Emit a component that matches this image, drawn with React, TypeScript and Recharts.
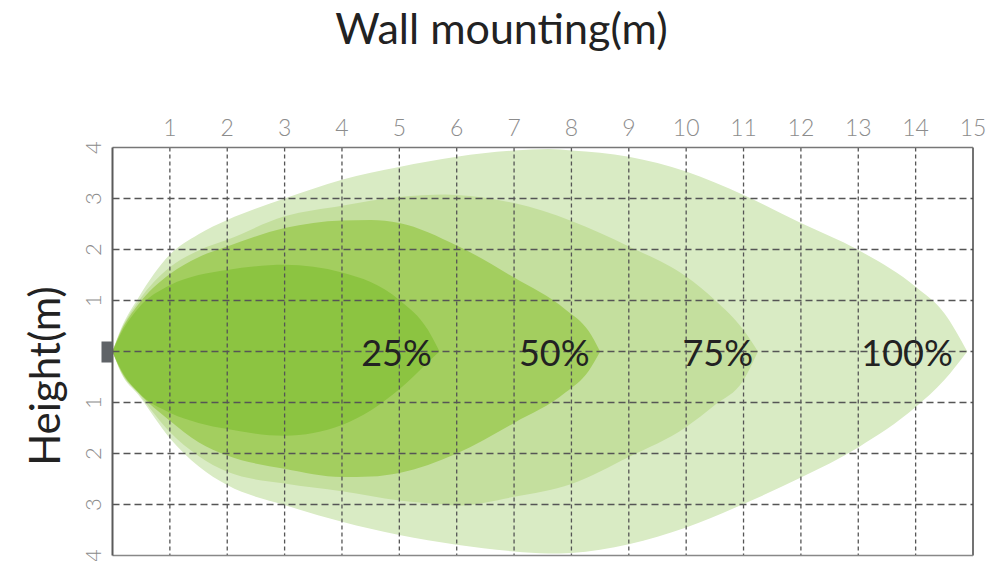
import { ComposedChart, Area, XAxis, YAxis, ReferenceLine, Scatter } from "recharts";

// axis ticks
const xTicks = [1, 2, 3, 4, 5, 6, 7, 8, 9, 10, 11, 12, 13, 14, 15];
const yTicks = [-4, -3, -2, -1, 0, 1, 2, 3, 4];

// 100% lobe
const lobe100X = [0, 0.15, 0.45, 1, 1.5, 2, 3, 4, 5, 6, 7, 7.6, 8, 9, 10, 11, 12, 13, 14, 14.5, 14.9];
const lobe100Upper = [0, 0.45, 1.05, 1.9, 2.3, 2.58, 3.0, 3.37, 3.62, 3.82, 3.94, 3.97, 3.94, 3.82, 3.53, 3.07, 2.52, 1.99, 1.27, 0.75, 0];
const lobe100Lower = [0, -0.42, -0.85, -1.7, -2.25, -2.62, -3.01, -3.34, -3.6, -3.79, -3.92, -3.96, -3.95, -3.78, -3.45, -2.99, -2.47, -1.88, -1.09, -0.56, 0];

// 75% lobe
const lobe75X = [0, 0.15, 0.45, 1, 1.5, 2, 3, 4, 5, 5.8, 6, 7, 8, 9, 10, 10.5, 11, 11.25];
const lobe75Upper = [0, 0.42, 0.98, 1.65, 1.98, 2.19, 2.65, 2.86, 3.03, 3.08, 3.07, 2.91, 2.56, 2.06, 1.47, 1.01, 0.42, 0];
const lobe75Lower = [0, -0.4, -0.82, -1.58, -2.05, -2.36, -2.59, -2.74, -2.92, -3.0, -3.02, -2.85, -2.6, -2.07, -1.48, -1.05, -0.56, 0];

// 50% lobe
const lobe50X = [0, 0.15, 0.45, 1, 1.5, 2, 3, 4, 4.5, 5, 6, 7, 7.9, 8.3, 8.5];
const lobe50Upper = [0, 0.4, 0.92, 1.52, 1.85, 2.06, 2.42, 2.57, 2.58, 2.52, 2.08, 1.45, 0.82, 0.4, 0];
const lobe50Lower = [0, -0.38, -0.8, -1.36, -1.78, -2.04, -2.3, -2.46, -2.45, -2.38, -2.0, -1.4, -0.8, -0.38, 0];

// 25% lobe
const lobe25X = [0, 0.15, 0.45, 1, 1.5, 2, 3, 4, 5, 5.5, 5.7];
const lobe25Upper = [0, 0.36, 0.85, 1.3, 1.5, 1.6, 1.7, 1.55, 1.01, 0.42, 0];
const lobe25Lower = [0, -0.36, -0.8, -1.2, -1.4, -1.52, -1.65, -1.44, -0.74, -0.21, 0];

const labelNames = ["25%", "50%", "75%", "100%"];
const labelX = [4.95, 7.7, 10.55, 13.85];

const toRange = (xs: number[], up: number[], lo: number[]) =>
  xs.map((x, i) => ({ x, range: [lo[i], up[i]] }));

const lobes = [
  { data: toRange(lobe100X, lobe100Upper, lobe100Lower), fill: "#d9ebc4" },
  { data: toRange(lobe75X, lobe75Upper, lobe75Lower), fill: "#c4df9e" },
  { data: toRange(lobe50X, lobe50Upper, lobe50Lower), fill: "#a3ce5f" },
  { data: toRange(lobe25X, lobe25Upper, lobe25Lower), fill: "#8cc441" },
];

const labelData = labelNames.map((name, i) => ({ x: labelX[i], y: 0, name }));
const originData = [{ x: 0, y: 0 }];

const font = "Lato, 'Open Sans', sans-serif";

function YTick(props: any) {
  const { x, y, payload } = props;
  if (payload.value === 0) return null;
  return (
    <text
      x={x}
      y={y}
      transform={`rotate(-90 ${x} ${y})`}
      textAnchor="middle"
      dominantBaseline="central"
      fill="#8c8c8c"
      fontSize={22}
      fontWeight={300}
      fontFamily={font}
    >
      {Math.abs(payload.value)}
    </text>
  );
}

export default function App() {
  return (
    <div style={{ position: "absolute", left: 0, top: 0, width: 997, height: 561, background: "#fff" }}>
      <div
        style={{
          position: "absolute",
          left: 0,
          width: 997,
          top: 2,
          textAlign: "center",
          fontFamily: font,
          fontSize: 43,
          color: "#222",
          paddingLeft: 3,
        }}
      >
        Wall mounting(m)
      </div>
      <div
        style={{
          position: "absolute",
          left: 44,
          top: 376,
          transform: "translate(-50%, -50%) rotate(-90deg)",
          fontFamily: font,
          fontSize: 42,
          color: "#222",
          whiteSpace: "nowrap",
        }}
      >
        Height(m)
      </div>
      <ComposedChart
        width={997}
        height={561}
        margin={{ top: 117.5, right: 24, bottom: 5.5, left: 72.5 }}
        style={{ position: "absolute", left: 0, top: 0 }}
      >
        <XAxis
          type="number"
          dataKey="x"
          orientation="top"
          domain={[0, 15]}
          ticks={xTicks}
          interval={0}
          height={30}
          tickLine={false}
          tickSize={0}
          tickMargin={12}
          axisLine={{ stroke: "#777", strokeWidth: 1.5 }}
          tick={{ fill: "#8c8c8c", fontSize: 23, fontWeight: 300, fontFamily: font }}
        />
        <YAxis
          type="number"
          domain={[-4, 4]}
          ticks={yTicks}
          interval={0}
          width={40}
          tickLine={false}
          tickSize={0}
          tickMargin={20}
          axisLine={{ stroke: "#5a5a5a", strokeWidth: 2 }}
          tick={<YTick />}
        />
        {lobes.map((l, i) => (
          <Area
            key={i}
            data={l.data}
            dataKey="range"
            type="monotone"
            fill={l.fill}
            fillOpacity={1}
            stroke="none"
            isAnimationActive={false}
          />
        ))}
        {xTicks.slice(0, -1).map((t) => (
          <ReferenceLine key={"vx" + t} x={t} stroke="#555" strokeWidth={1.3} strokeDasharray="4 3" />
        ))}
        {yTicks.slice(1, -1).map((t) => (
          <ReferenceLine key={"hy" + t} y={t} stroke="#555" strokeWidth={1.3} strokeDasharray="7 4" />
        ))}
        <ReferenceLine x={xTicks[xTicks.length - 1]} stroke="#444" strokeWidth={1.5} />
        <ReferenceLine y={yTicks[0]} stroke="#888" strokeWidth={1.5} />
        <Scatter
          data={originData}
          dataKey="y"
          isAnimationActive={false}
          shape={(p: any) => <rect x={p.cx - 11} y={p.cy - 10} width={11} height={21} fill="#5f6367" />}
        />
        <Scatter
          data={labelData}
          dataKey="y"
          isAnimationActive={false}
          shape={(p: any) => (
            <text
              x={p.cx}
              y={p.cy}
              textAnchor="middle"
              dominantBaseline="central"
              fontFamily={font}
              fontSize={36}
              fill="#222"
            >
              {p.payload.name}
            </text>
          )}
        />
      </ComposedChart>
    </div>
  );
}
